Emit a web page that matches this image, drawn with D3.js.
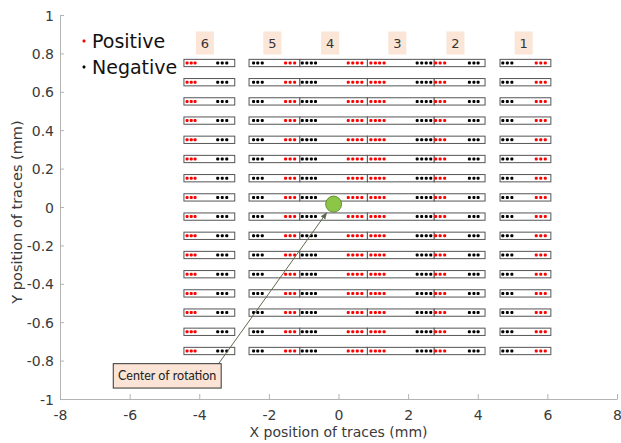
<!DOCTYPE html>
<html><head><meta charset="utf-8">
<script src="https://cdn.jsdelivr.net/npm/d3@7"></script>
<style>
html,body{margin:0;padding:0;background:#fff;}
svg{display:block;}
</style></head>
<body>
<svg id="chart" width="621" height="443"></svg>
<script>
// ---- data ----
const xTickValues = [-8, -6, -4, -2, 0, 2, 4, 6, 8];
const yTickValues = [-1, -0.8, -0.6, -0.4, -0.2, 0, 0.2, 0.4, 0.6, 0.8, 1];
const rowY = [0.75, 0.65, 0.55, 0.45, 0.35, 0.25, 0.15, 0.05, -0.05, -0.15, -0.25, -0.35, -0.45, -0.55, -0.65, -0.75];
const groupLabels = ["6", "5", "4", "3", "2", "1"];
const groupLabelX = [-3.84, -1.9, -0.24, 1.69, 3.36, 5.32];
const groupStart = [-4.44, -2.57, -1.11, 0.83, 2.75, 4.64];
const groupEnd = [-2.98, -1.11, 0.83, 2.75, 4.21, 6.10];
const positiveX = [-4.35, -4.23, -4.12, -1.52, -1.39, -1.26, 0.28, 0.41, 0.54, 0.67,
                   0.93, 1.06, 1.18, 1.31, 2.79, 2.92, 3.05, 5.68, 5.81, 5.94];
const negativeX = [-3.47, -3.34, -3.21, -2.44, -2.32, -2.19, -1.04, -0.91, -0.78, -0.66,
                   2.26, 2.39, 2.52, 2.65, 3.76, 3.89, 4.01, 4.72, 4.85, 4.98];
const legendLabels = ["Positive", "Negative"];
const rotationCenter = [-0.14, 0.015];
const annotationText = "Center of rotation";
const annotationBox = [-6.47, -0.816, -3.37, -0.943]; // x0,y0,x1,y1 in data units
const arrowFrom = [-3.46, -0.82];
const arrowTo = [-0.34, -0.03];

// ---- layout ----
const svg = d3.select("#chart");
const x = d3.scaleLinear().domain([-8, 8]).range([60, 617]);
const y = d3.scaleLinear().domain([-1, 1]).range([399, 15]);
const FONT = "'DejaVu Sans', 'Noto Sans', sans-serif";
const fmt = d => String(+d.toFixed(1));

// axes
const xAxis = d3.axisBottom(x).tickValues(xTickValues).tickFormat(fmt).tickSizeInner(-5).tickSizeOuter(0).tickPadding(11);
const yAxis = d3.axisLeft(y).tickValues(yTickValues).tickFormat(fmt).tickSizeInner(-4).tickSizeOuter(0).tickPadding(6);

const gx = svg.append("g").attr("transform", `translate(0,${y(-1)})`).call(xAxis);
const gy = svg.append("g").attr("transform", `translate(${x(-8)},0)`).call(yAxis);
[gx, gy].forEach(g => {
  g.select(".domain").attr("stroke", "#b3b3b3").attr("stroke-width", 1);
  g.selectAll(".tick line").attr("stroke", "#b3b3b3");
  g.selectAll(".tick text").attr("fill", "#3a3a3a").style("font-family", FONT).style("font-size", "14px");
});
gy.selectAll(".tick text").attr("dy", "0.36em");

svg.append("text").attr("x", x(0)).attr("y", 437)
  .attr("text-anchor", "middle").attr("fill", "#3a3a3a")
  .style("font-family", FONT).style("font-size", "14px")
  .text("X position of traces (mm)");
svg.append("text").attr("transform", `translate(22,${y(0) + 5}) rotate(-90)`)
  .attr("text-anchor", "middle").attr("fill", "#3a3a3a")
  .style("font-family", FONT).style("font-size", "14.5px")
  .text("Y position of traces (mm)");

// group rectangles per row
const rowH = 0.019;
const cells = [];
rowY.forEach(r => groupStart.forEach((g, i) => cells.push({r, x0: g, x1: groupEnd[i]})));
svg.append("g").selectAll("rect").data(cells).join("rect")
  .attr("x", d => x(d.x0)).attr("y", d => y(d.r + rowH))
  .attr("width", d => x(d.x1) - x(d.x0)).attr("height", d => y(d.r - rowH) - y(d.r + rowH))
  .attr("fill", "#fff").attr("stroke", "#555").attr("stroke-width", 1);

// dots
const dots = [];
rowY.forEach(r => {
  positiveX.forEach(px => dots.push({x: px, y: r, c: "#ff0000"}));
  negativeX.forEach(nx => dots.push({x: nx, y: r, c: "#000000"}));
});
svg.append("g").selectAll("rect").data(dots).join("rect")
  .attr("x", d => x(d.x) - 1.5).attr("y", d => y(d.y) - 1.5)
  .attr("width", 3).attr("height", 3).attr("rx", 1)
  .attr("fill", d => d.c);

// group labels
const lab = svg.append("g").selectAll("g").data(groupLabels).join("g")
  .attr("transform", (d, i) => `translate(${x(groupLabelX[i])},43)`);
lab.append("rect").attr("x", -9).attr("y", -11.5).attr("width", 18).attr("height", 23).attr("fill", "#fae5d6");
lab.append("text").attr("text-anchor", "middle").attr("dy", "0.36em")
  .attr("fill", "#333").style("font-family", FONT).style("font-size", "13px").text(d => d);

// legend
const leg = svg.append("g").selectAll("g").data(legendLabels).join("g")
  .attr("transform", (d, i) => `translate(84,${41 + i * 26})`);
leg.append("rect").attr("x", -1.4).attr("y", -1.4).attr("width", 2.8).attr("height", 2.8).attr("rx", 1)
  .attr("fill", (d, i) => i === 0 ? "#ff0000" : "#000");
leg.append("text").attr("x", 8).attr("dy", "0.36em").attr("fill", "#111")
  .style("font-family", FONT).style("font-size", "19px").text(d => d);

// annotation arrow
svg.append("defs").append("marker").attr("id", "ah").attr("viewBox", "0 0 10 10")
  .attr("refX", 9).attr("refY", 5).attr("markerWidth", 7).attr("markerHeight", 7)
  .attr("orient", "auto").append("path").attr("d", "M0,1 L10,5 L0,9 Z").attr("fill", "#5d6b4c");
svg.append("line")
  .attr("x1", x(arrowFrom[0])).attr("y1", y(arrowFrom[1]))
  .attr("x2", x(arrowTo[0])).attr("y2", y(arrowTo[1]))
  .attr("stroke", "#5d6b4c").attr("stroke-width", 1).attr("marker-end", "url(#ah)");

// center of rotation
svg.append("circle").attr("cx", x(rotationCenter[0])).attr("cy", y(rotationCenter[1]))
  .attr("r", 8).attr("fill", "#8dc647").attr("stroke", "#4f7a2a").attr("stroke-width", 0.8);

// annotation box
svg.append("rect")
  .attr("x", x(annotationBox[0])).attr("y", y(annotationBox[1]))
  .attr("width", x(annotationBox[2]) - x(annotationBox[0]))
  .attr("height", y(annotationBox[3]) - y(annotationBox[1]))
  .attr("fill", "#fbe4d5").attr("stroke", "#333").attr("stroke-width", 1);
svg.append("text")
  .attr("x", (x(annotationBox[0]) + x(annotationBox[2])) / 2)
  .attr("y", (y(annotationBox[1]) + y(annotationBox[3])) / 2)
  .attr("text-anchor", "middle").attr("dy", "0.36em").attr("fill", "#222")
  .style("font-family", "Lato, 'Open Sans', sans-serif").style("font-size", "12.5px")
  .text(annotationText);
</script>
</body></html>
